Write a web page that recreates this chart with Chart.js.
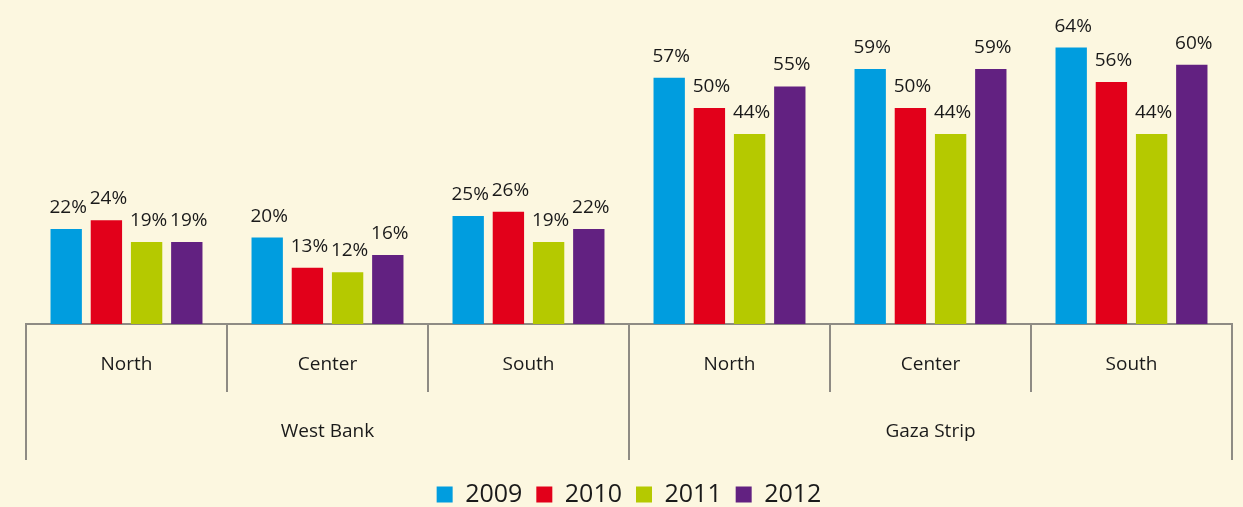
<!DOCTYPE html>
<html>
<head>
<meta charset="utf-8">
<script src="https://cdn.jsdelivr.net/npm/chart.js@4"></script>
<style>
  html, body { margin: 0; padding: 0; background: #fcf7e0; }
  #wrap { width: 1243px; height: 507px; }
</style>
</head>
<body>
<div id="wrap"><canvas id="myChart"></canvas></div>
<script>
var regions = ['North', 'Center', 'South', 'North', 'Center', 'South'];
var areas = ['West Bank', 'Gaza Strip'];
var years = ['2009', '2010', '2011', '2012'];
var v2009 = [22, 20, 25, 57, 59, 64];
var v2010 = [24, 13, 26, 50, 50, 56];
var v2011 = [19, 12, 19, 44, 44, 44];
var v2012 = [19, 16, 22, 55, 59, 60];
var colors = ['#009ddf', '#e2001a', '#b5c900', '#622181'];

var lineColor = '#8e8b84';
var textColor = '#1a1a1a';
var fontFamily = '"Open Sans", "Liberation Sans", sans-serif';

// draws % labels, the category separators and the West Bank / Gaza Strip row
var extras = {
  id: 'extras',
  afterDatasetsDraw: function(chart) {
    var ctx = chart.ctx;
    ctx.save();
    ctx.font = '19px ' + fontFamily;
    ctx.fillStyle = textColor;
    ctx.textAlign = 'center';
    ctx.textBaseline = 'alphabetic';
    chart.data.datasets.forEach(function(ds, i) {
      chart.getDatasetMeta(i).data.forEach(function(bar, j) {
        ctx.fillText(ds.data[j] + '%', bar.x + 2, bar.y - 16);
      });
    });
    ctx.restore();
  },
  afterDraw: function(chart) {
    var ctx = chart.ctx;
    var x = chart.scales.x;
    var top = chart.chartArea.bottom;
    ctx.save();
    ctx.strokeStyle = lineColor;
    ctx.lineWidth = 2;
    for (var k = 0; k <= regions.length; k++) {
      var px = Math.round(x.getPixelForValue(k - 0.5));
      var long = (k % 3 === 0);
      ctx.beginPath();
      ctx.moveTo(px, top);
      ctx.lineTo(px, long ? top + 136 : top + 68);
      ctx.stroke();
    }
    ctx.font = '19px ' + fontFamily;
    ctx.fillStyle = textColor;
    ctx.textAlign = 'center';
    ctx.textBaseline = 'middle';
    areas.forEach(function(a, i) {
      var l = x.getPixelForValue(i * 3 - 0.5);
      var r = x.getPixelForValue(i * 3 + 2.5);
      ctx.fillText(a, (l + r) / 2, top + 108);
    });
    ctx.restore();
  }
};

var series = [v2009, v2010, v2011, v2012];
var datasets = [];
for (var i = 0; i < years.length; i++) {
  datasets.push({
    label: years[i],
    data: series[i],
    backgroundColor: colors[i],
    borderWidth: 0,
    categoryPercentage: 0.8,
    barPercentage: 0.78
  });
}

new Chart(document.getElementById('myChart').getContext('2d'), {
  type: 'bar',
  data: { labels: regions, datasets: datasets },
  plugins: [extras],
  options: {
    responsive: true,
    maintainAspectRatio: false,
    animation: false,
    layout: { padding: { left: 26, right: 11, top: 0, bottom: -10 } },
    plugins: {
      tooltip: { enabled: false },
      legend: {
        position: 'bottom',
        labels: {
          boxWidth: 16,
          boxHeight: 16,
          padding: 14,
          color: textColor,
          font: { size: 25, family: fontFamily }
        }
      }
    },
    scales: {
      x: {
        grid: { display: false },
        border: { display: true, color: lineColor, width: 2 },
        ticks: { color: textColor, padding: 21, font: { size: 19, family: fontFamily } },
        afterFit: function(s) { s.height = 144; }
      },
      y: {
        display: false,
        min: 0,
        max: 75
      }
    }
  }
});
</script>
</body>
</html>
